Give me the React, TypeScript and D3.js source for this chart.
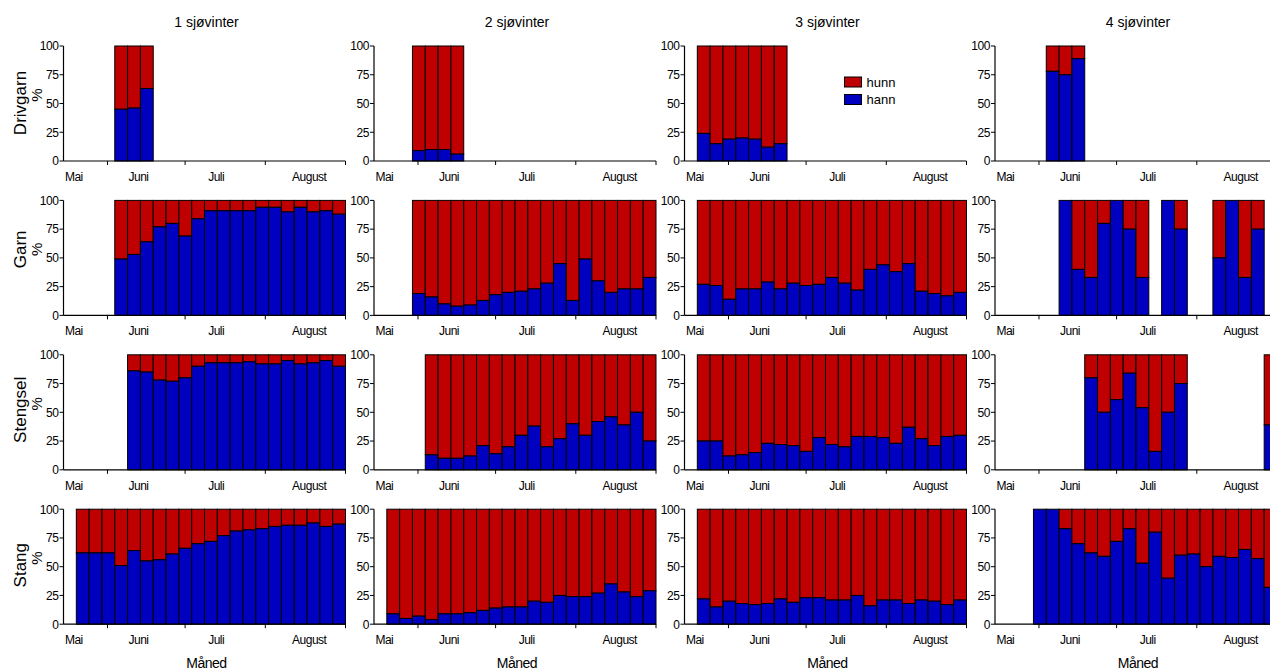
import React from "react";
import * as d3 from "d3";

const N = null;
// Share of males (hann, %) per 5-day period (22 periods, mid-May to end of August); female (hunn) = 100 - hann
const drivgarn1 = [N, N, N, N, 45, 46, 63, N, N, N, N, N, N, N, N, N, N, N, N, N, N, N];
const drivgarn2 = [N, N, N, 9, 10, 10, 6, N, N, N, N, N, N, N, N, N, N, N, N, N, N, N];
const drivgarn3 = [N, 24, 15, 19, 20, 19, 12, 15, N, N, N, N, N, N, N, N, N, N, N, N, N, N];
const drivgarn4 = [N, N, N, N, 78, 75, 89, N, N, N, N, N, N, N, N, N, N, N, N, N, N, N];

const garn1 = [N, N, N, N, 49, 53, 64, 77, 80, 69, 84, 91, 91, 91, 91, 94, 94, 90, 94, 90, 91, 88];
const garn2 = [N, N, N, 19, 16, 10, 8, 9, 13, 18, 20, 21, 23, 28, 45, 13, 49, 30, 20, 23, 23, 33];
const garn3 = [N, 27, 26, 14, 23, 23, 29, 23, 28, 26, 27, 33, 28, 22, 40, 44, 38, 45, 21, 19, 17, 20];
const garn4 = [N, N, N, N, N, 100, 40, 33, 80, 100, 75, 33, N, 100, 75, N, N, 50, 100, 33, 75, N];

const stengsel1 = [N, N, N, N, N, 86, 85, 78, 77, 80, 90, 93, 93, 93, 94, 92, 92, 95, 92, 93, 95, 90];
const stengsel2 = [N, N, N, N, 13, 10, 10, 12, 21, 14, 20, 30, 38, 20, 27, 40, 30, 42, 46, 39, 50, 25];
const stengsel3 = [N, 25, 25, 12, 13, 15, 23, 22, 21, 16, 28, 22, 20, 29, 29, 28, 23, 37, 27, 21, 29, 30];
const stengsel4 = [N, N, N, N, N, N, N, 80, 50, 61, 84, 54, 16, 50, 75, N, N, N, N, N, N, 39];

const stang1 = [N, 62, 62, 62, 51, 64, 55, 56, 61, 66, 70, 72, 77, 81, 82, 83, 85, 86, 86, 88, 85, 87];
const stang2 = [N, 9, 5, 7, 4, 9, 9, 10, 12, 14, 15, 15, 20, 19, 25, 24, 24, 27, 35, 28, 24, 29];
const stang3 = [N, 22, 15, 20, 18, 17, 18, 22, 19, 23, 23, 21, 21, 25, 16, 21, 21, 18, 21, 20, 17, 21];
const stang4 = [N, N, N, 100, 100, 83, 70, 62, 59, 72, 83, 53, 80, 40, 60, 61, 50, 59, 58, 65, 57, 32];

const gears = ["Drivgarn", "Garn", "Stengsel", "Stang"];
const seaWinters = ["1 sjøvinter", "2 sjøvinter", "3 sjøvinter", "4 sjøvinter"];
const grid = [
  [drivgarn1, drivgarn2, drivgarn3, drivgarn4],
  [garn1, garn2, garn3, garn4],
  [stengsel1, stengsel2, stengsel3, stengsel4],
  [stang1, stang2, stang3, stang4],
];
const yTicks = [0, 25, 50, 75, 100];
const monthNames = ["Mai", "Juni", "Juli", "August"];
const monthLabelDates = [new Date(2000, 4, 19), new Date(2000, 5, 13), new Date(2000, 6, 13), new Date(2000, 7, 18)];
const monthTickDates = [new Date(2000, 5, 1), new Date(2000, 6, 1), new Date(2000, 7, 1), new Date(2000, 8, 1)];
const axisStart = new Date(2000, 4, 15);
const axisEnd = new Date(2000, 8, 1);
const legendItems = [
  { label: "hunn", color: "#c00000" },
  { label: "hann", color: "#0000c0" },
];

const RED = "#c00000";
const BLUE = "#0000c0";
const FONT = "'Liberation Sans', Arial, sans-serif";

const COL_X0 = 63.5;
const COL_STEP = 310.5;
const PANEL_W = 282;
const ROW_Y0 = 46;
const ROW_STEP = 154.4;
const PANEL_H = 115;
const WORD_OFFSETS = [57, 49, 55, 56];

function Panel({ values, r, c }: { values: (number | null)[]; r: number; c: number }) {
  const x0 = COL_X0 + c * COL_STEP;
  const top = ROW_Y0 + r * ROW_STEP;
  const x = d3.scaleBand<number>().domain(d3.range(values.length)).range([x0, x0 + PANEL_W]).padding(0);
  const t = d3.scaleTime().domain([axisStart, axisEnd]).range([x0, x0 + PANEL_W]);
  const y = d3.scaleLinear().domain([0, 100]).range([top + PANEL_H, top]);
  const bw = x.bandwidth();
  return (
    <g>
      {values.map((v, i) =>
        v == null ? null : (
          <g key={i}>
            <rect x={x(i)!} y={y(100)} width={bw} height={y(v) - y(100)} fill={RED} stroke="#000" strokeWidth={1} />
            <rect x={x(i)!} y={y(v)} width={bw} height={y(0) - y(v)} fill={BLUE} stroke="#000" strokeWidth={1} />
          </g>
        )
      )}
      <line x1={x0} x2={x0 + PANEL_W} y1={y(0)} y2={y(0)} stroke="#000" strokeWidth={1.2} />
      <line x1={x0} x2={x0} y1={y(0)} y2={y(100)} stroke="#000" strokeWidth={1.2} />
      {yTicks.map((tk) => (
        <g key={tk}>
          <line x1={x0 - 4} x2={x0} y1={y(tk)} y2={y(tk)} stroke="#000" strokeWidth={1} />
          <text x={x0 - 5} y={y(tk) + 4.3} textAnchor="end" fontSize={12} letterSpacing={-0.4} fontFamily={FONT}>
            {tk}
          </text>
        </g>
      ))}
      {monthTickDates.map((d, i) => (
        <line key={i} x1={t(d)} x2={t(d)} y1={y(0)} y2={y(0) + 4} stroke="#000" strokeWidth={1} />
      ))}
      {monthNames.map((m, i) => (
        <text key={m} x={t(monthLabelDates[i])} y={y(0) + 20} textAnchor="middle" fontSize={12} letterSpacing={-0.5} fontFamily={FONT}>
          {m}
        </text>
      ))}
    </g>
  );
}

export default function App() {
  const lx = COL_X0 + 2 * COL_STEP + 160;
  const ly = ROW_Y0 + 31;
  return (
    <svg width={1270} height={670} style={{ position: "absolute", left: 0, top: 0, background: "#fff" }} fontFamily={FONT}>
      <rect width={1270} height={670} fill="#fff" />
      {seaWinters.map((s, c) => (
        <text key={s} x={COL_X0 + c * COL_STEP + 143} y={27} textAnchor="middle" fontSize={14} fontFamily={FONT}>
          {s}
        </text>
      ))}
      {gears.map((g, r) => {
        const top = ROW_Y0 + r * ROW_STEP;
        return (
          <g key={g}>
            <text transform={`translate(26,${top + WORD_OFFSETS[r]}) rotate(-90)`} textAnchor="middle" fontSize={17} fontFamily={FONT}>
              {g}
            </text>
            <text transform={`translate(42,${top + 49}) rotate(-90)`} textAnchor="middle" fontSize={15} fontFamily={FONT}>
              %
            </text>
          </g>
        );
      })}
      {grid.map((row, r) => row.map((vals, c) => <Panel key={`${r}-${c}`} values={vals} r={r} c={c} />))}
      {seaWinters.map((s, c) => (
        <text key={s} x={COL_X0 + c * COL_STEP + 143} y={668} textAnchor="middle" fontSize={14} letterSpacing={-0.5} fontFamily={FONT}>
          Måned
        </text>
      ))}
      {legendItems.map((it, i) => (
        <g key={it.label}>
          <rect x={lx} y={ly + i * 17.5} width={17} height={10} fill={it.color} stroke="#000" strokeWidth={1} />
          <text x={lx + 22} y={ly + i * 17.5 + 9.5} fontSize={13} fontFamily={FONT}>
            {it.label}
          </text>
        </g>
      ))}
    </svg>
  );
}
